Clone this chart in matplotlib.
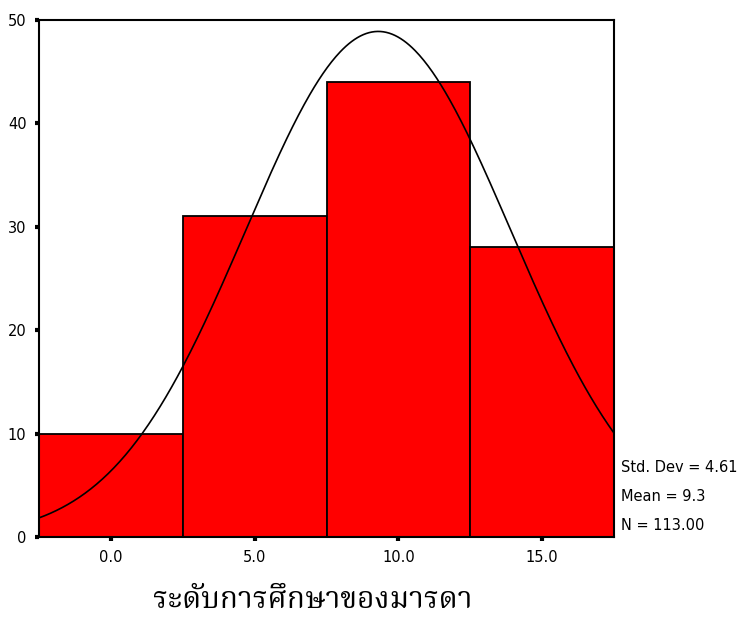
import numpy as np
import matplotlib
matplotlib.use("Agg")
import matplotlib.pyplot as plt
from matplotlib import font_manager

# histogram data (bin centres, counts) and summary stats
bin_centers = [0.0, 5.0, 10.0, 15.0]
counts = [10, 31, 44, 28]
bin_width = 5.0
std_dev = 4.61
mean = 9.3
n_total = 113
x_label = "ระดับการศึกษาของมารดา"
y_ticks = [0, 10, 20, 30, 40, 50]

# look for any installed font that can draw Thai, serif first
names = sorted({f.name for f in font_manager.fontManager.ttflist})
thai_fonts = [n for n in names if "thai" in n.lower() or n.lower() in ("garuda", "loma", "norasi")]
thai_fonts.sort(key=lambda n: 0 if "serif" in n.lower() or "norasi" in n.lower() else 1)
label_family = thai_fonts[:1] + ["DejaVu Serif", "DejaVu Sans"]

fig = plt.figure(figsize=(7.42, 6.34), dpi=100)
ax = fig.add_axes([39 / 742, 1 - 537 / 634, (614 - 39) / 742, (537 - 20) / 634])

ax.bar(bin_centers, counts, width=bin_width, color="#ff0000",
       edgecolor="black", linewidth=1.3, zorder=2)

lo = bin_centers[0] - bin_width / 2
hi = bin_centers[-1] + bin_width / 2
xs = np.linspace(lo, hi, 400)
ys = n_total * bin_width / (std_dev * np.sqrt(2 * np.pi)) * np.exp(-(xs - mean) ** 2 / (2 * std_dev ** 2))
ax.plot(xs, ys, color="black", linewidth=1.2, zorder=3)

ax.set_xlim(lo, hi)
ax.set_ylim(0, 50)
ax.set_xticks(bin_centers)
ax.set_xticklabels([f"{v:.1f}" for v in bin_centers])
ax.set_yticks(y_ticks)
ax.tick_params(axis="both", direction="out", length=3, width=3, labelsize=10.5, pad=6)
for s in ax.spines.values():
    s.set_linewidth(1.5)

ax.text(1.012, 0.135, f"Std. Dev = {std_dev:.2f}", transform=ax.transAxes, fontsize=10.5, va="center")
ax.text(1.012, 0.079, f"Mean = {mean}", transform=ax.transAxes, fontsize=10.5, va="center")
ax.text(1.012, 0.023, f"N = {n_total:.2f}", transform=ax.transAxes, fontsize=10.5, va="center")

fig.text(313 / 742, 1 - 600 / 634, x_label, ha="center", va="center",
         fontsize=21.5, family=label_family)

fig.savefig("out.png", dpi=100)
